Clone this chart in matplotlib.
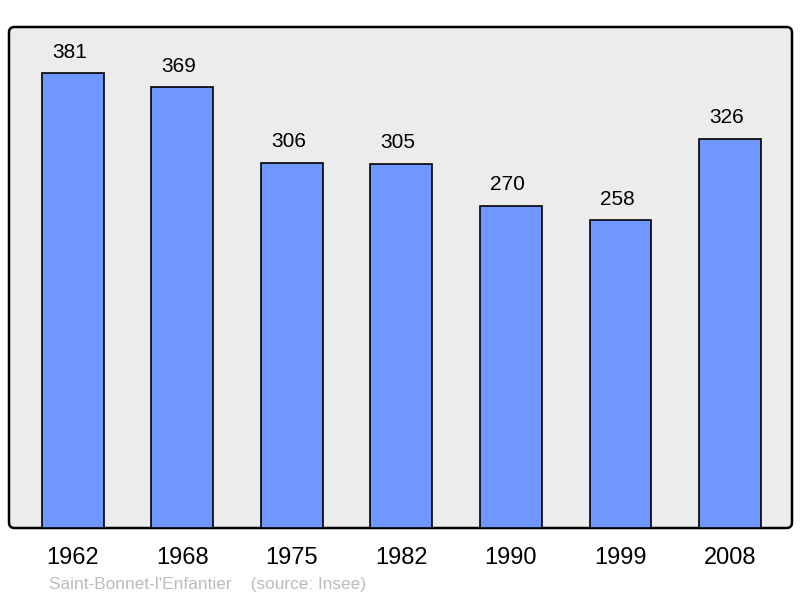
import matplotlib.pyplot as plt
from matplotlib.patches import FancyBboxPatch

years = ['1962', '1968', '1975', '1982', '1990', '1999', '2008']
population = [381, 369, 306, 305, 270, 258, 326]

plt.rcParams['font.family'] = ['Liberation Sans', 'DejaVu Sans']

fig = plt.figure(figsize=(8, 5.98), dpi=100)
ax = fig.add_axes([9/800, 70/598, 783/800, 501/598])
ax.set_facecolor('none')
for s in ax.spines.values():
    s.set_visible(False)

# rounded grey frame
frame = FancyBboxPatch((0, 0), 1, 1, boxstyle='round,pad=0,rounding_size=0.007',
                       mutation_aspect=783/501, transform=ax.transAxes,
                       facecolor='#ececec', edgecolor='black', linewidth=1.8,
                       zorder=0, clip_on=False)
ax.add_patch(frame)

x = range(len(years))
ax.bar(x, population, width=0.566, color='#7096ff', edgecolor='black',
       linewidth=1.2, zorder=2)

for i, v in enumerate(population):
    ax.annotate(str(v), (i, v), xytext=(-2.5, 15), textcoords='offset points',
                ha='center', va='center', fontsize=15, color='black')

ax.set_xlim(-0.584, 6.566)
ax.set_ylim(0, 419.6)
ax.set_xticks(list(x))
ax.set_xticklabels(years, fontsize=17)
ax.tick_params(axis='x', length=0, pad=13.5)
ax.set_yticks([])

fig.text(49/800, 1 - 585/598, "Saint-Bonnet-l'Enfantier    (source: Insee)",
         fontsize=12.4, color='#bbbbbb', va='center', ha='left')

fig.savefig('out.png', dpi=100)
